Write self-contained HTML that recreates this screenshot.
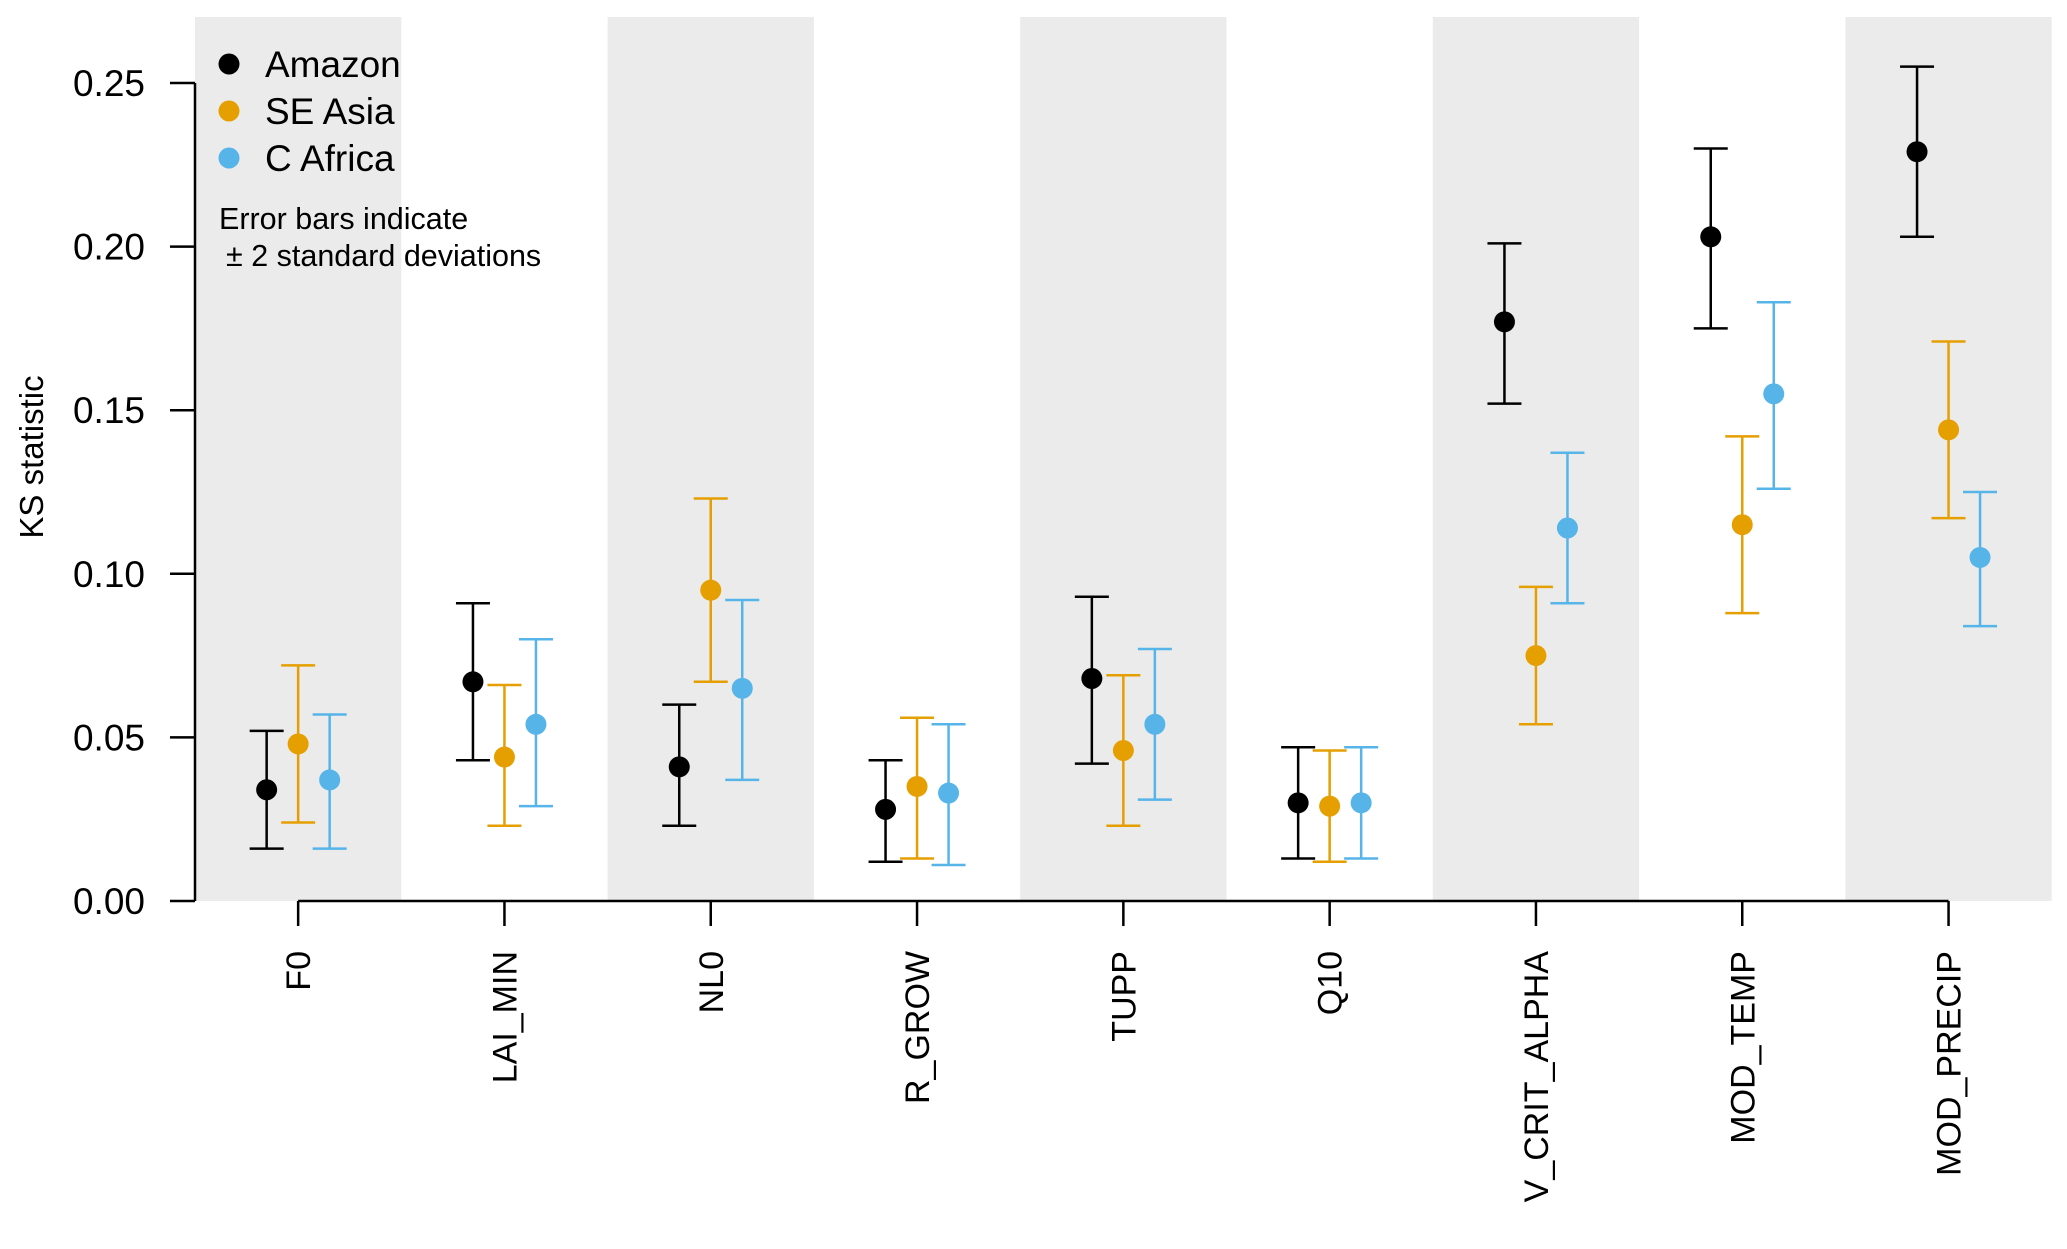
<!DOCTYPE html>
<html><head><meta charset="utf-8"><style>
html,body{margin:0;padding:0;background:#fff;}
svg{display:block;font-family:"Liberation Sans",Arial,sans-serif;}
</style></head><body>
<svg id="chart" width="2067" height="1249" viewBox="0 0 2067 1249" xmlns="http://www.w3.org/2000/svg"></svg>
<script>
const categories=["F0","LAI_MIN","NL0","R_GROW","TUPP","Q10","V_CRIT_ALPHA","MOD_TEMP","MOD_PRECIP"];
const seriesNames=["Amazon","SE Asia","C Africa"];
const amazonMean=[0.034,0.067,0.041,0.028,0.068,0.030,0.177,0.203,0.229];
const amazonLo=[0.016,0.043,0.023,0.012,0.042,0.013,0.152,0.175,0.203];
const amazonHi=[0.052,0.091,0.060,0.043,0.093,0.047,0.201,0.230,0.255];
const seAsiaMean=[0.048,0.044,0.095,0.035,0.046,0.029,0.075,0.115,0.144];
const seAsiaLo=[0.024,0.023,0.067,0.013,0.023,0.012,0.054,0.088,0.117];
const seAsiaHi=[0.072,0.066,0.123,0.056,0.069,0.046,0.096,0.142,0.171];
const africaMean=[0.037,0.054,0.065,0.033,0.054,0.030,0.114,0.155,0.105];
const africaLo=[0.016,0.029,0.037,0.011,0.031,0.013,0.091,0.126,0.084];
const africaHi=[0.057,0.080,0.092,0.054,0.077,0.047,0.137,0.183,0.125];
const yTicks=["0.00","0.05","0.10","0.15","0.20","0.25"];

const svg=document.getElementById('chart');
const NS='http://www.w3.org/2000/svg';
const X0=195,BW=206.3,Y0=901,YS=(901-83)/0.25,TOP=17,RIGHT=2058;
const colors=["#000000","#E69F00","#56B4E9"];
const offsets=[-31.5,0,31.5];
function xc(i){return X0+BW/2+i*BW;}
function y(v){return Y0-v*YS;}
function mk(tag,attrs,parent){const e=document.createElementNS(NS,tag);for(const k in attrs)e.setAttribute(k,attrs[k]);(parent||svg).appendChild(e);return e;}

for(let i=0;i<categories.length;i+=2){
 const r=mk('rect',{x:X0+i*BW,y:TOP,width:Math.min(BW,RIGHT-(X0+i*BW)),height:Y0-TOP,fill:'#EBEBEB'});
 
 
}
const ya=mk('g',{});


mk('line',{x1:X0,y1:Y0,x2:X0,y2:y(0.25),stroke:'#000','stroke-width':2.5},ya);
yTicks.forEach(t=>{
 const v=parseFloat(t);
 mk('line',{x1:170,y1:y(v),x2:X0,y2:y(v),stroke:'#000','stroke-width':2.5},ya);
 const tx=mk('text',{x:145,y:y(v)+13,'text-anchor':'end','font-size':37,fill:'#000'},ya);
 tx.textContent=t;
 
 
});
const yt=mk('text',{x:0,y:0,transform:'translate(43,457) rotate(-90)','text-anchor':'middle','font-size':33,fill:'#000'});
yt.textContent='KS statistic';


const xa=mk('g',{});


mk('line',{x1:xc(0),y1:Y0,x2:xc(categories.length-1),y2:Y0,stroke:'#000','stroke-width':2.5},xa);
categories.forEach((c,i)=>{
 mk('line',{x1:xc(i),y1:Y0,x2:xc(i),y2:Y0+25,stroke:'#000','stroke-width':2.5},xa);
 const tx=mk('text',{x:0,y:0,transform:`translate(${xc(i)+12},951) rotate(-90)`,'text-anchor':'end','font-size':34,fill:'#000'},xa);
 tx.textContent=c;
 
 
});
const means=[amazonMean,seAsiaMean,africaMean],los=[amazonLo,seAsiaLo,africaLo],his=[amazonHi,seAsiaHi,africaHi];
means.forEach((m,s)=>{
 const g=mk('g',{});
 
 
 m.forEach((v,i)=>{
  const x=xc(i)+offsets[s];
  const eb=mk('path',{d:`M${x},${y(los[s][i])}V${y(his[s][i])}M${x-17},${y(los[s][i])}H${x+17}M${x-17},${y(his[s][i])}H${x+17}`,stroke:colors[s],'stroke-width':2.5,fill:'none'},g);
  
  
  const p=mk('circle',{cx:x,cy:y(v),r:10.5,fill:colors[s]},g);
  
  
 });
});
const lg=mk('g',{});


seriesNames.forEach((n,s)=>{
 const yy=64+s*47;
 const c=mk('circle',{cx:229,cy:yy,r:10.5,fill:colors[s]},lg);
 
 
 const t=mk('text',{x:265,y:yy+13,'font-size':37,fill:'#000'},lg);
 t.textContent=n;
 
 
});
const n1=mk('text',{x:219,y:229,'font-size':30.5,fill:'#000'},lg);
n1.textContent='Error bars indicate';


const n2=mk('text',{x:226,y:266,'font-size':30.5,fill:'#000'},lg);
n2.textContent='± 2 standard deviations';


</script>
</body></html>
